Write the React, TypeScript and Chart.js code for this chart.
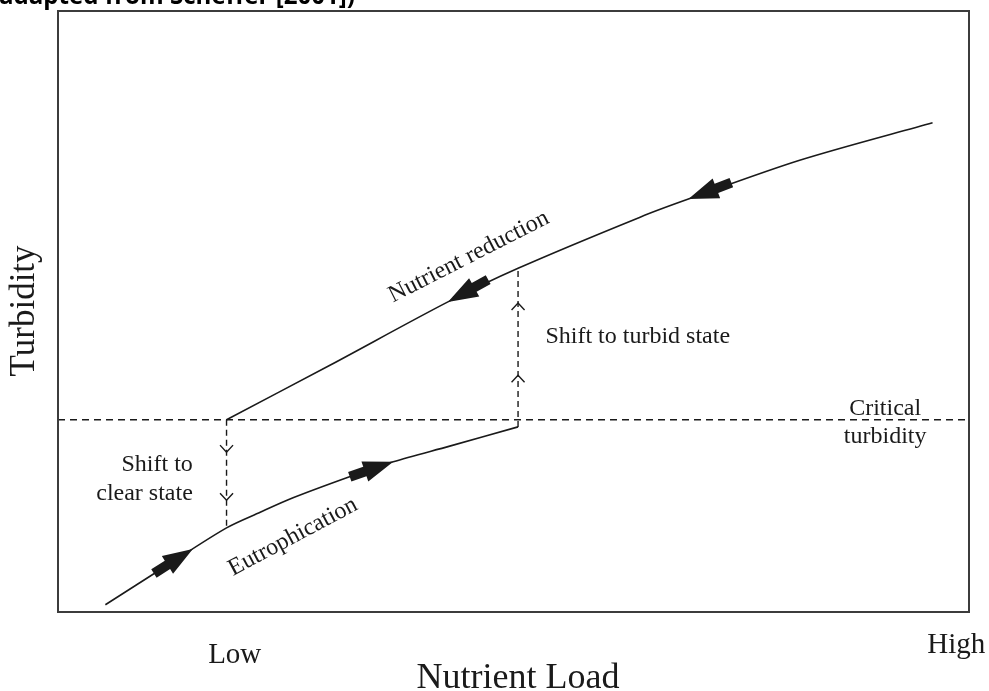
import React, { useEffect, useRef } from "react";
import { Chart, registerables } from "chart.js";
Chart.register(...registerables);

// ---- data (x: nutrient load 0..100, y: turbidity 0..100) ----
const eutroX = [5.2, 11.9, 18.5, 22.2, 25.8, 32.0, 36.8, 43.0, 50.5];
const eutroY = [1.2, 7.7, 14.0, 16.6, 19.0, 22.5, 25.0, 27.6, 30.8];
const reductionX = [18.5, 29.9, 42.8, 50.5, 63.9, 69.2, 81.5, 96.0];
const reductionY = [32.0, 41.1, 51.6, 57.2, 65.7, 68.7, 75.2, 81.4];
const criticalTurbidity = 32.0;
const shiftClearX = 18.5;
const shiftClearY = [32.0, 14.0];
const shiftTurbidX = 50.5;
const shiftTurbidY = [30.8, 57.2];
const arrowTailX = [10.3, 32.0, 47.1, 74.0];
const arrowTailY = [6.2, 22.5, 55.2, 71.5];
const arrowTipX = [14.8, 36.8, 42.8, 69.2];
const arrowTipY = [10.5, 25.0, 51.6, 68.7];
const chevronX = [18.5, 18.5, 50.5, 50.5];
const chevronY = [26.6, 18.6, 51.4, 39.4];
const chevronDir = ["down", "down", "up", "up"];
const xTickLabels = ["Low", "High"];
const xTickPos = [19.4, 98.6];
const xAxisTitle = "Nutrient Load";
const yAxisTitle = "Turbidity";
const titleText = "adapted from Scheffer [2001])";

const SERIF = "'Liberation Serif', 'Times New Roman', serif";
const INK = "#1a1a1a";

export default function App() {
  const ref = useRef<HTMLCanvasElement | null>(null);

  useEffect(() => {
    if (!ref.current) return;
    const pts = (xs: number[], ys: number[]) => xs.map((x, i) => ({ x, y: ys[i] }));

    const notes = [
      { t: "Eutrophication", x: 25.8, y: 12.5, rot: -28, align: "center", base: "middle", size: 24 },
      { t: "Nutrient reduction", x: 45.1, y: 59.1, rot: -27, align: "center", base: "middle", size: 24 },
      { t: "Shift to turbid state", x: 53.5, y: 44.8, rot: 0, align: "left", base: "alphabetic", size: 24 },
      { t: "Shift to", x: 14.8, y: 23.5, rot: 0, align: "right", base: "alphabetic", size: 24 },
      { t: "clear state", x: 14.8, y: 18.6, rot: 0, align: "right", base: "alphabetic", size: 24 },
      { t: "Critical", x: 90.8, y: 32.8, rot: 0, align: "center", base: "alphabetic", size: 24 },
      { t: "turbidity", x: 90.8, y: 28.1, rot: 0, align: "center", base: "alphabetic", size: 24 },
    ];

    const deco = {
      id: "deco",
      afterDatasetsDraw(chart: any) {
        const ctx = chart.ctx;
        const xs = chart.scales.x;
        const ys = chart.scales.y;
        const ca = chart.chartArea;
        ctx.save();
        // filled arrows
        ctx.fillStyle = INK;
        for (let i = 0; i < arrowTipX.length; i++) {
          const tx = xs.getPixelForValue(arrowTipX[i]);
          const ty = ys.getPixelForValue(arrowTipY[i]);
          const sx = xs.getPixelForValue(arrowTailX[i]);
          const sy = ys.getPixelForValue(arrowTailY[i]);
          let ux = tx - sx, uy = ty - sy;
          const L = Math.hypot(ux, uy);
          ux /= L; uy /= L;
          const nx = -uy, ny = ux;
          const total = 46, head = 30, hh = 10.5, sh = 5;
          const bx = tx - ux * head, by = ty - uy * head;
          const ex = tx - ux * total, ey = ty - uy * total;
          ctx.beginPath();
          ctx.moveTo(tx, ty);
          ctx.lineTo(bx + nx * hh, by + ny * hh);
          ctx.lineTo(bx + nx * sh, by + ny * sh);
          ctx.lineTo(ex + nx * sh, ey + ny * sh);
          ctx.lineTo(ex - nx * sh, ey - ny * sh);
          ctx.lineTo(bx - nx * sh, by - ny * sh);
          ctx.lineTo(bx - nx * hh, by - ny * hh);
          ctx.closePath();
          ctx.fill();
        }
        // open chevrons
        ctx.strokeStyle = INK;
        ctx.lineWidth = 1.4;
        for (let i = 0; i < chevronX.length; i++) {
          const cx = xs.getPixelForValue(chevronX[i]);
          const cy = ys.getPixelForValue(chevronY[i]);
          const d = chevronDir[i] === "down" ? -1 : 1;
          ctx.beginPath();
          ctx.moveTo(cx - 6.5, cy + d * 7);
          ctx.lineTo(cx, cy);
          ctx.lineTo(cx + 6.5, cy + d * 7);
          ctx.stroke();
        }
        // plot frame
        ctx.strokeStyle = "#3c3c3c";
        ctx.lineWidth = 2;
        ctx.strokeRect(ca.left, ca.top, ca.right - ca.left, ca.bottom - ca.top);
        ctx.restore();
      },
      afterDraw(chart: any) {
        const ctx = chart.ctx;
        const xs = chart.scales.x;
        const ys = chart.scales.y;
        const ca = chart.chartArea;
        ctx.save();
        ctx.fillStyle = INK;
        for (const n of notes) {
          ctx.save();
          ctx.translate(xs.getPixelForValue(n.x), ys.getPixelForValue(n.y));
          ctx.rotate((n.rot * Math.PI) / 180);
          ctx.font = `${n.size}px ${SERIF}`;
          ctx.textAlign = n.align as CanvasTextAlign;
          ctx.textBaseline = n.base as CanvasTextBaseline;
          ctx.fillText(n.t, 0, 0);
          ctx.restore();
        }
        // x tick labels
        ctx.font = `29px ${SERIF}`;
        ctx.textAlign = "center";
        ctx.textBaseline = "alphabetic";
        const tickOff = [51, 41];
        xTickLabels.forEach((t, i) => {
          ctx.fillText(t, xs.getPixelForValue(xTickPos[i]), ca.bottom + tickOff[i]);
        });
        // axis titles
        ctx.font = `36px ${SERIF}`;
        ctx.fillText(xAxisTitle, xs.getPixelForValue(50.5), ca.bottom + 76);
        ctx.save();
        ctx.translate(ca.left - 24, ys.getPixelForValue(50.1));
        ctx.rotate(-Math.PI / 2);
        ctx.font = `35px ${SERIF}`;
        ctx.fillText(yAxisTitle, 0, 0);
        ctx.restore();
        // clipped caption at the top
        ctx.font = `bold 20px 'Open Sans', 'DejaVu Sans', sans-serif`;
        const w = ctx.measureText(titleText).width;
        const size = (20 * 356) / w;
        ctx.font = `bold ${size.toFixed(2)}px 'Open Sans', 'DejaVu Sans', sans-serif`;
        ctx.textAlign = "left";
        ctx.fillStyle = "#000";
        ctx.fillText(titleText, -1, 4);
        ctx.restore();
      },
    };

    const lineDs = (data: any[], extra: any = {}) => ({
      data,
      showLine: true,
      borderColor: INK,
      borderWidth: 1.6,
      pointRadius: 0,
      fill: false,
      ...extra,
    });

    const chart = new Chart(ref.current, {
      type: "scatter",
      data: {
        datasets: [
          lineDs(pts(eutroX, eutroY), { tension: 0.3 }),
          lineDs(pts(reductionX, reductionY), { tension: 0.3 }),
          lineDs([{ x: 0, y: criticalTurbidity }, { x: 100, y: criticalTurbidity }], { borderDash: [7, 5], borderWidth: 1.4 }),
          lineDs([{ x: shiftClearX, y: shiftClearY[0] }, { x: shiftClearX, y: shiftClearY[1] }], { borderDash: [6, 4], borderWidth: 1.4 }),
          lineDs([{ x: shiftTurbidX, y: shiftTurbidY[0] }, { x: shiftTurbidX, y: shiftTurbidY[1] }], { borderDash: [6, 4], borderWidth: 1.4 }),
        ],
      },
      options: {
        responsive: false,
        animation: false,
        events: [],
        layout: { padding: { left: 58, right: 20, top: 11, bottom: 79 } },
        scales: {
          x: { type: "linear", min: 0, max: 100, display: false },
          y: { type: "linear", min: 0, max: 100, display: false },
        },
        plugins: { legend: { display: false }, tooltip: { enabled: false } },
      } as any,
      plugins: [deco],
    });
    return () => chart.destroy();
  }, []);

  return (
    <div style={{ position: "fixed", left: 0, top: 0, width: 989, height: 691, background: "#fff" }}>
      <canvas ref={ref} width={989} height={691} style={{ display: "block" }} />
    </div>
  );
}
